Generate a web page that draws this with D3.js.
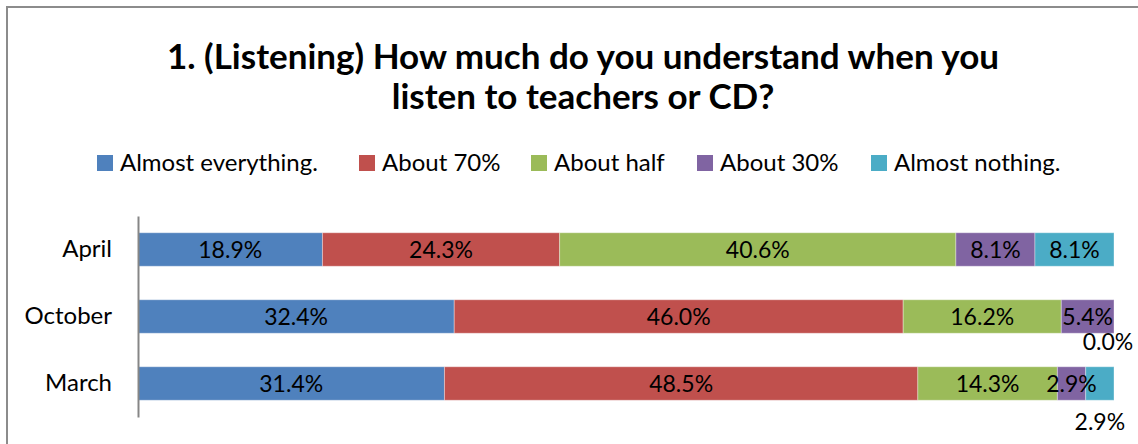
<!DOCTYPE html>
<html>
<head>
<meta charset="utf-8">
<script src="https://cdn.jsdelivr.net/npm/d3@7"></script>
<style>
  html, body { margin: 0; padding: 0; background: #fff; }
  svg { display: block; font-family: Lato, "Open Sans", sans-serif; }
</style>
</head>
<body>
<svg id="chart" width="1138" height="444"></svg>
<script>
// Survey answers, percent of students per month
const categories = ["April", "October", "March"];
const seriesNames = ["Almost everything.", "About 70%", "About half", "About 30%", "Almost nothing."];
const almostEverything = [18.9, 32.4, 31.4];
const about70 = [24.3, 46.0, 48.5];
const aboutHalf = [40.6, 16.2, 14.3];
const about30 = [8.1, 5.4, 2.9];
const almostNothing = [8.1, 0.0, 2.9];
const titleLines = ["1. (Listening) How much do you understand when you", "listen to teachers or CD?"];

const seriesValues = [almostEverything, about70, aboutHalf, about30, almostNothing];
const colors = ["#4F81BD", "#C0504D", "#9BBB59", "#8064A2", "#4BACC6"];

const rows = categories.map((c, i) => {
  const r = { category: c };
  seriesNames.forEach((s, k) => { r[s] = seriesValues[k][i]; });
  return r;
});
const stacked = d3.stack().keys(seriesNames)(rows);

const svg = d3.select("#chart");

// chart area frame
svg.append("rect")
  .attr("x", 7).attr("y", 7).attr("width", 1150).attr("height", 460)
  .attr("fill", "#fff").attr("stroke", "#8c8c8c").attr("stroke-width", 2);

// title
const title = svg.append("text")
  .attr("text-anchor", "middle")
  .attr("font-weight", "bold")
  .attr("font-size", 35)
  .attr("fill", "#000");
titleLines.forEach((t, i) => {
  title.append("tspan").attr("x", 583).attr("y", 69 + i * 40).text(t);
});

// legend
const legendX = [97, 359, 531, 697, 871];
const legend = svg.append("g");
seriesNames.forEach((s, k) => {
  const g = legend.append("g").attr("transform", `translate(${legendX[k]},155)`);
  g.append("rect").attr("width", 16).attr("height", 16).attr("fill", colors[k]);
  g.append("text").attr("x", 23).attr("y", 16).attr("font-size", 24).attr("fill", "#000").text(s);
});

// scales
const x = d3.scaleLinear().domain([0, 100]).range([138, 1114]);
const y = d3.scaleBand().domain(categories).range([216, 417]).paddingInner(0.5).paddingOuter(0.25);

// bars
const layers = svg.append("g").selectAll("g")
  .data(stacked)
  .join("g")
  .attr("fill", (d, k) => colors[k]);

layers.selectAll("rect")
  .data(d => d)
  .join("rect")
  .attr("x", d => x(d[0]))
  .attr("y", d => y(d.data.category))
  .attr("width", d => x(d[1]) - x(d[0]))
  .attr("height", y.bandwidth())
  .attr("stroke", "rgba(255,255,255,0.35)")
  .attr("stroke-width", 1);

// value labels; zero-width and tiny segments get their label pushed below the bar
const nudge = {
  "October|Almost nothing.": [-6, 25],
  "March|Almost nothing.": [0, 38]
};
stacked.forEach((layer, k) => {
  layer.forEach(d => {
    const key = d.data.category + "|" + layer.key;
    const off = nudge[key] || [0, 0];
    svg.append("text")
      .attr("x", (x(d[0]) + x(d[1])) / 2 + off[0])
      .attr("y", y(d.data.category) + y.bandwidth() / 2 + off[1])
      .attr("dy", "0.36em")
      .attr("text-anchor", "middle")
      .attr("font-size", 23)
      .attr("fill", "#000")
      .text(d3.format(".1f")(d[1] - d[0]) + "%");
  });
});

// category axis
const axis = svg.append("g")
  .attr("transform", "translate(138,0)")
  .call(d3.axisLeft(y).tickSize(0).tickPadding(26));
axis.select(".domain").attr("stroke", "#868686").attr("stroke-width", 2);
axis.selectAll("text")
  .attr("font-size", 24)
  .attr("font-family", "Lato, 'Open Sans', sans-serif")
  .attr("fill", "#000");
</script>
</body>
</html>
